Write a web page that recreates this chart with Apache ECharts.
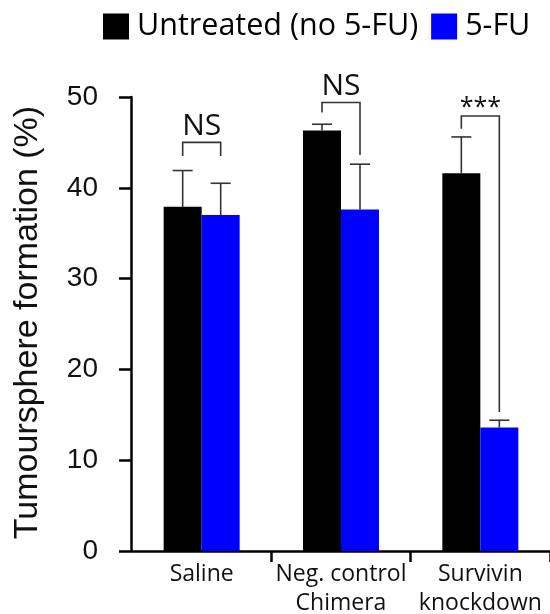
<!DOCTYPE html>
<html>
<head>
<meta charset="utf-8">
<script src="https://cdn.jsdelivr.net/npm/echarts@6/dist/echarts.min.js"></script>
<style>html,body{margin:0;padding:0;background:#fff;}#c{width:550px;height:614px;}</style>
</head>
<body>
<div id="c"></div>
<script>
const categories = ['Saline', 'Neg. control\nChimera', 'Survivin\nknockdown'];
const seriesNames = ['Untreated (no 5-FU)', '5-FU'];
const untreated = [37.9, 46.3, 41.6];
const treated = [37.0, 37.6, 13.6];
const untreatedErr = [4.0, 0.7, 4.0];
const treatedErr = [3.5, 5.0, 0.8];
const sigLabels = ['NS', 'NS', '***'];
const sigTop = [45.0, 49.4, 47.9];
const sigLeftEnd = [43.5, 48.3, 46.5];
const sigRightEnd = [43.5, 43.6, 15.3];
const yMin = 0, yMax = 50, yStep = 10;

const BAR_W = 38;
const LINE_COLOR = '#333';

function errSeries(vals, errs, side) {
  return {
    type: 'custom',
    z: 5,
    clip: false,
    silent: true,
    data: vals.map((v, i) => [i, v, v + errs[i]]),
    renderItem: function (params, api) {
      const p0 = api.coord([api.value(0), api.value(1)]);
      const p1 = api.coord([api.value(0), api.value(2)]);
      const x = p0[0] + side * BAR_W / 2;
      const st = { stroke: LINE_COLOR, lineWidth: 1.6 };
      return {
        type: 'group',
        children: [
          { type: 'line', shape: { x1: x, y1: p0[1], x2: x, y2: p1[1] }, style: st },
          { type: 'line', shape: { x1: x - 10, y1: p1[1], x2: x + 10, y2: p1[1] }, style: st }
        ]
      };
    }
  };
}

const chart = echarts.init(document.getElementById('c'), null, { renderer: 'canvas' });
chart.setOption({
  animation: false,
  backgroundColor: '#fff',
  legend: {
    data: seriesNames,
    left: 103,
    top: 11,
    padding: 0,
    icon: 'rect',
    itemWidth: 26,
    itemHeight: 26,
    itemGap: 13,
    textStyle: { fontFamily: 'Open Sans', fontSize: 30.5, color: '#000', padding: [0, 0, 0, 3] }
  },
  grid: { left: 132, right: 0, top: 97, bottom: 63, containLabel: false, outerBoundsMode: 'none' },
  xAxis: {
    type: 'category',
    data: categories,
    axisLine: { lineStyle: { color: '#000', width: 2.5 } },
    axisTick: { show: true, length: 11, lineStyle: { color: '#000', width: 2.5 }, interval: function (i) { return i !== 0; } },
    axisLabel: { fontFamily: 'Open Sans', fontSize: 23, color: '#111', margin: 9, lineHeight: 29, interval: 0 }
  },
  yAxis: {
    type: 'value',
    min: yMin, max: yMax, interval: yStep,
    offset: 1,
    splitLine: { show: false },
    axisLine: { show: true, lineStyle: { color: '#000', width: 2.5 } },
    axisTick: { show: true, length: 12, lineStyle: { color: '#000', width: 2.5 } },
    axisLabel: { fontFamily: 'Liberation Sans', fontSize: 28, color: '#111', margin: 33 },
    name: 'Tumoursphere formation (%)',
    nameLocation: 'middle',
    nameGap: 86,
    nameTextStyle: { fontFamily: 'Liberation Sans', fontSize: 34, color: '#111', padding: [0, 0, 0, 3] }
  },
  series: [
    { name: seriesNames[0], type: 'bar', data: untreated, barWidth: BAR_W, barGap: '0%', itemStyle: { color: '#000' } },
    { name: seriesNames[1], type: 'bar', data: treated, barWidth: BAR_W, barGap: '0%', itemStyle: { color: '#0000ff' } },
    errSeries(untreated, untreatedErr, -1),
    errSeries(treated, treatedErr, 1),
    {
      type: 'custom',
      z: 6,
      clip: false,
      silent: true,
      data: sigTop.map((t, i) => [i, t, sigLeftEnd[i], sigRightEnd[i]]),
      renderItem: function (params, api) {
        const c = api.coord([api.value(0), api.value(1)]);
        const lb = api.coord([api.value(0), api.value(2)]);
        const rb = api.coord([api.value(0), api.value(3)]);
        const xl = c[0] - BAR_W / 2, xr = c[0] + BAR_W / 2;
        const lab = sigLabels[params.dataIndex];
        const isStar = lab.indexOf('*') >= 0;
        return {
          type: 'group',
          children: [
            { type: 'polyline', shape: { points: [[xl, lb[1]], [xl, c[1]], [xr, c[1]], [xr, rb[1]]] },
              style: { stroke: LINE_COLOR, lineWidth: 1.6, fill: null } },
            { type: 'text', x: c[0], y: isStar ? c[1] + 4 : c[1] - 1,
              style: { text: lab, fontFamily: 'Open Sans', fontSize: isStar ? 25 : 30, fill: '#111',
                       align: 'center', verticalAlign: 'bottom' } }
          ]
        };
      }
    }
  ]
});
</script>
</body>
</html>
